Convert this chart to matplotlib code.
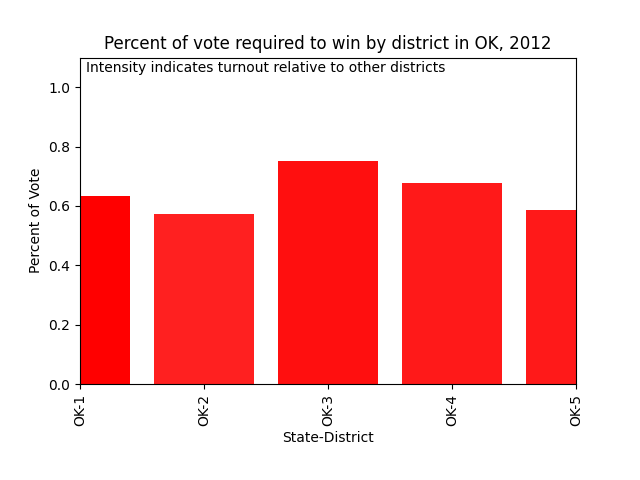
"""Percent of vote required to win, by district"""

import matplotlib
matplotlib.use("Agg")
import matplotlib.pyplot as plt

DISTRICTS = ["OK-1", "OK-2", "OK-3", "OK-4", "OK-5"]
VOTE_SHARE = [0.633, 0.572, 0.751, 0.677, 0.586]
# relative turnout drives the bar intensity
INTENSITY = [1.0, 0.875, 0.94, 0.9, 0.9]


def main():
    fig, ax = plt.subplots(figsize=(6.4, 4.8), dpi=100)
    fig.subplots_adjust(bottom=0.2)
    positions = range(len(DISTRICTS))
    for x, v, a in zip(positions, VOTE_SHARE, INTENSITY):
        ax.bar(x, v, width=0.8, color="red", alpha=a)
    ax.set_xticks(list(positions))
    ax.set_xticklabels(DISTRICTS, rotation=90)
    ax.set_xlim(0, len(DISTRICTS) - 1)
    ax.set_ylim(0, 1.1)
    ax.set_xlabel("State-District")
    ax.set_ylabel("Percent of Vote")
    ax.set_title("Percent of vote required to win by district in OK, 2012")
    ax.text(0.012, 0.99, "Intensity indicates turnout relative to other districts",
            transform=ax.transAxes, va="top", ha="left")
    fig.savefig("out.png")
    plt.close(fig)


if __name__ == "__main__":
    main()
